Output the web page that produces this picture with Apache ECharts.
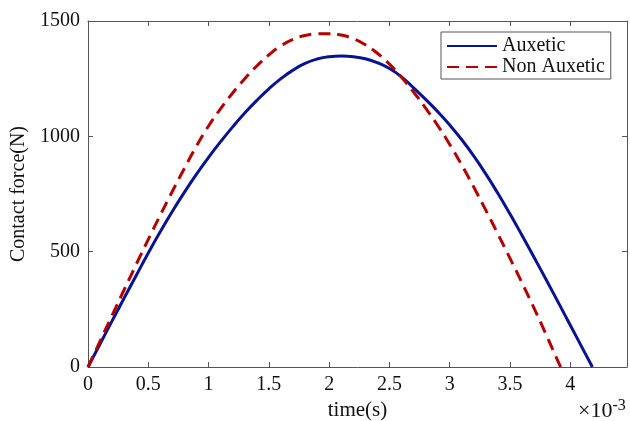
<!DOCTYPE html>
<html>
<head>
<meta charset="utf-8">
<script src="https://cdn.jsdelivr.net/npm/echarts@6/dist/echarts.min.js"></script>
<style>
html,body{margin:0;padding:0;background:#fff;}
#chart{width:630px;height:421px;}
</style>
</head>
<body>
<div id="chart"></div>
<script>
// time in units of 1e-3 s
var timeAux = [0,0.1,0.2,0.3,0.4,0.5,0.6,0.7,0.8,0.9,1.0,1.1,1.2,1.3,1.4,1.5,1.6,1.7,1.8,1.9,2.0,2.1,2.2,2.3,2.4,2.5,2.6,2.7,2.8,2.9,3.0,3.1,3.2,3.3,3.4,3.5,3.6,3.7,3.8,3.9,4.0,4.1,4.183];
var forceAux = [0,100,200,299,397,494,587,675,758,836,909,977,1041,1101,1156,1206,1250,1287,1316,1335,1345,1348,1345,1336,1319,1294,1258,1210,1160,1107,1049,985,914,836,752,663,570,475,378,280,181,82,0];
var timeNon = [0,0.1,0.2,0.3,0.4,0.5,0.6,0.7,0.8,0.9,1.0,1.1,1.2,1.3,1.4,1.5,1.6,1.7,1.8,1.9,2.0,2.1,2.2,2.3,2.4,2.5,2.6,2.7,2.8,2.9,3.0,3.1,3.2,3.3,3.4,3.5,3.6,3.7,3.8,3.9,3.92];
var forceNon = [0,112,224,335,445,553,659,762,862,958,1045,1120,1188,1250,1305,1353,1392,1420,1437,1444,1445,1439,1423,1397,1360,1313,1256,1192,1122,1047,965,875,779,679,576,471,364,254,140,22,0];
var seriesNames = ['Auxetic', 'Non Auxetic'];
var xTitle = 'time(s)';
var yTitle = 'Contact force(N)';

function pairs(t, f) { return t.map(function (v, i) { return [v, f[i]]; }); }

var chart = echarts.init(document.getElementById('chart'), null, {renderer: 'canvas'});
var font = 'Liberation Serif';
var axisCol = '#555';
function common() {
  return {
    axisLine: {show: true, onZero: false, lineStyle: {color: axisCol, width: 1}},
    axisTick: {show: true, inside: true, length: 5, lineStyle: {color: axisCol}},
    splitLine: {show: false}
  };
}
var plain = function (v) { return String(v); };
var option = {
  animation: false,
  backgroundColor: '#fff',
  grid: {left: 88, right: 3, top: 21, bottom: 54, containLabel: false, outerBoundsMode: 'none'},
  xAxis: [
    Object.assign({type: 'value', min: 0, max: 4.47, interval: 0.5, position: 'bottom',
      name: xTitle, nameLocation: 'middle', nameGap: 31,
      nameTextStyle: {fontFamily: font, fontSize: 21, color: '#111'},
      axisLabel: {showMaxLabel: false, margin: 8, fontFamily: font, fontSize: 20, color: '#111', formatter: plain}}, common()),
    Object.assign({type: 'value', min: 0, max: 4.47, interval: 0.5, position: 'top',
      axisLabel: {show: false}}, common())
  ],
  yAxis: [
    Object.assign({type: 'value', min: 0, max: 1500, interval: 500, position: 'left',
      name: yTitle, nameLocation: 'middle', nameGap: 58,
      nameTextStyle: {fontFamily: font, fontSize: 20, color: '#111'},
      axisLabel: {margin: 8, fontFamily: font, fontSize: 20, color: '#111', formatter: plain}}, common()),
    Object.assign({type: 'value', min: 0, max: 1500, interval: 500, position: 'right',
      axisLabel: {show: false}}, common())
  ],
  legend: {
    orient: 'vertical', left: 441, top: 32,
    data: seriesNames,
    backgroundColor: '#fff', borderColor: axisCol, borderWidth: 1,
    padding: [4, 6, 2, 5], itemGap: 1, itemWidth: 50, itemHeight: 14,
    itemStyle: {opacity: 0},
    textStyle: {fontFamily: font, fontSize: 20, color: '#111'}
  },
  graphic: [{
    type: 'text', left: 578, top: 398,
    style: {
      text: '×10{s|-3}',
      rich: {s: {fontFamily: font, fontSize: 16, verticalAlign: 'top', padding: [0, 0, 10, 0]}},
      fontFamily: font, fontSize: 22, fill: '#111'
    }
  }],
  series: [
    {name: seriesNames[0], type: 'line', showSymbol: false, symbol: 'none', smooth: true,
      data: pairs(timeAux, forceAux), lineStyle: {color: '#071390', width: 3}, itemStyle: {color: '#071390'}},
    {name: seriesNames[1], type: 'line', showSymbol: false, symbol: 'none', smooth: true,
      data: pairs(timeNon, forceNon), lineStyle: {color: '#b30000', width: 3, type: [12, 7]}, itemStyle: {color: '#b30000'}}
  ]
};
chart.setOption(option);
</script>
</body>
</html>
